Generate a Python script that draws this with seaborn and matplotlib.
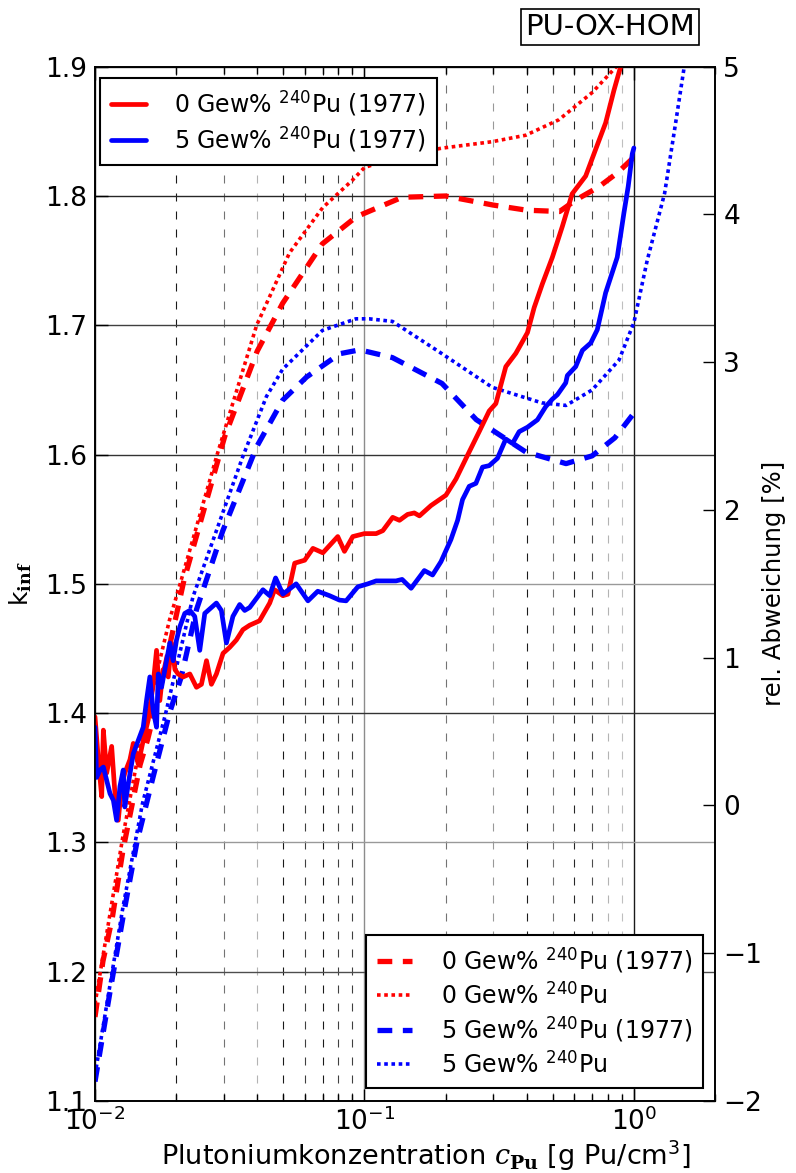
import matplotlib
matplotlib.use("Agg")
import matplotlib.pyplot as plt
import seaborn as sns
from matplotlib.ticker import LogLocator, NullFormatter, FixedLocator

# --- k_inf, 1977 evaluation (dashed) and current data (dotted) ---
x_red_1977 = [0.010, 0.0107, 0.0116, 0.0127, 0.0147, 0.0157, 0.0175, 0.020, 0.0214,
              0.0303, 0.040, 0.0497, 0.0698, 0.0934, 0.138, 0.20, 0.30, 0.40, 0.53,
              0.61, 0.74, 0.87, 1.0]
k_red_1977 = [1.165, 1.208, 1.242, 1.294, 1.36, 1.38, 1.42, 1.475, 1.503,
              1.614, 1.68, 1.717, 1.763, 1.784, 1.799, 1.800, 1.793, 1.789, 1.788,
              1.797, 1.807, 1.818, 1.83]

x_red_new = [0.010, 0.0127, 0.015, 0.0189, 0.0207, 0.0284, 0.0398, 0.0527, 0.070, 0.090,
             0.10, 0.14, 0.194, 0.298, 0.397, 0.527, 0.70, 0.86, 1.0]
k_red_new = [1.175, 1.305, 1.385, 1.472, 1.50, 1.60, 1.70, 1.756, 1.791, 1.812,
             1.822, 1.832, 1.837, 1.842, 1.847, 1.859, 1.88, 1.90, 1.925]

x_blue_1977 = [0.010, 0.0114, 0.0127, 0.0143, 0.0164, 0.0189, 0.0209, 0.0238, 0.0298,
               0.0398, 0.0497, 0.061, 0.081, 0.096, 0.127, 0.194, 0.26, 0.397, 0.56,
               0.70, 0.85, 1.0]
k_blue_1977 = [1.115, 1.186, 1.242, 1.30, 1.35, 1.40, 1.428, 1.48, 1.541,
               1.606, 1.642, 1.66, 1.678, 1.681, 1.675, 1.655, 1.627, 1.602, 1.593,
               1.599, 1.613, 1.632]

x_blue_new = [0.010, 0.0127, 0.015, 0.0183, 0.0231, 0.0298, 0.0353, 0.0433, 0.0497,
              0.0698, 0.093, 0.104, 0.127, 0.194, 0.298, 0.455, 0.56, 0.70, 0.88,
              1.0, 1.12, 1.3, 1.42, 1.53, 1.6]
k_blue_new = [1.12, 1.25, 1.33, 1.40, 1.49, 1.555, 1.598, 1.645, 1.666,
              1.696, 1.705, 1.705, 1.703, 1.678, 1.652, 1.640, 1.638, 1.65, 1.673,
              1.702, 1.75, 1.802, 1.853, 1.897, 1.93]

# --- relative deviation [%] (solid) ---
x_dev_red = [0.0100, 0.01029, 0.01059, 0.01074, 0.01105, 0.01153, 0.01186, 0.0122, 0.01255,
             0.0129, 0.01348, 0.01387, 0.01447, 0.0151, 0.01576, 0.01644, 0.01692, 0.0174,
             0.0179, 0.0187, 0.01923, 0.0198, 0.02035, 0.02124, 0.02249, 0.0238, 0.02483,
             0.02593, 0.02704, 0.02822, 0.02987, 0.0316, 0.03347, 0.0354, 0.0375, 0.0408,
             0.0445, 0.0464, 0.0498, 0.052, 0.0551, 0.060, 0.0644, 0.0701, 0.0796, 0.0843,
             0.0905, 0.100, 0.1105, 0.117, 0.1273, 0.1349, 0.1446, 0.1531, 0.160, 0.1766,
             0.2006, 0.2187, 0.2413, 0.2666, 0.2904, 0.3074, 0.3347, 0.3646, 0.4027, 0.4265,
             0.4574, 0.4982, 0.5428, 0.5902, 0.6623, 0.7211, 0.7855, 0.8433, 0.8929, 1.0]
r_dev_red = [0.60, 0.31, 0.06, 0.51, 0.22, 0.40, 0.08, -0.10, 0.13,
             0.22, 0.31, 0.42, 0.28, 0.44, 0.58, 0.82, 1.05, 0.71,
             0.92, 0.87, 1.10, 0.92, 0.89, 0.87, 0.89, 0.80, 0.82,
             0.98, 0.82, 0.89, 1.03, 1.07, 1.12, 1.19, 1.22, 1.25,
             1.37, 1.46, 1.42, 1.43, 1.64, 1.66, 1.74, 1.71, 1.82, 1.72,
             1.82, 1.84, 1.84, 1.86, 1.95, 1.93, 1.97, 1.98, 1.96, 2.03,
             2.10, 2.21, 2.37, 2.53, 2.67, 2.72, 2.97, 3.06, 3.20, 3.37,
             3.53, 3.71, 3.92, 4.14, 4.26, 4.44, 4.62, 4.84, 5.00, 5.40]

x_dev_blue = [0.0100, 0.01014, 0.01044, 0.01074, 0.01105, 0.01137, 0.0117, 0.01203, 0.01238,
              0.01273, 0.0129, 0.0133, 0.01387, 0.01447, 0.0151, 0.01553, 0.01598, 0.01644,
              0.01692, 0.01717, 0.01766, 0.01843, 0.01896, 0.0195, 0.02007, 0.02065, 0.02154,
              0.02249, 0.02345, 0.02448, 0.02555, 0.02704, 0.02822, 0.02944, 0.03074, 0.0325,
              0.03443, 0.03594, 0.0375, 0.042, 0.0445, 0.0468, 0.0498, 0.0558, 0.0617, 0.0671,
              0.0742, 0.0808, 0.0855, 0.0945, 0.1029, 0.1105, 0.131, 0.138, 0.149, 0.1668,
              0.179, 0.1923, 0.2094, 0.2217, 0.2312, 0.2448, 0.2592, 0.2743, 0.2904, 0.3117,
              0.3347, 0.3543, 0.3752, 0.4027, 0.4385, 0.4709, 0.4982, 0.52, 0.5585, 0.5663,
              0.6082, 0.644, 0.6915, 0.7314, 0.7855, 0.8673, 0.9183, 0.9527, 0.9863, 1.0]
r_dev_blue = [0.53, 0.19, 0.24, 0.26, 0.17, 0.08, 0.035, -0.10, 0.13,
              0.24, -0.01, 0.15, 0.35, 0.44, 0.53, 0.71, 0.87, 0.64,
              0.53, 0.89, 0.80, 0.98, 1.10, 0.98, 1.12, 1.21, 1.30,
              1.32, 1.28, 1.05, 1.30, 1.34, 1.37, 1.32, 1.10, 1.28,
              1.36, 1.32, 1.34, 1.46, 1.42, 1.54, 1.43, 1.50, 1.385, 1.45,
              1.42, 1.39, 1.385, 1.48, 1.50, 1.52, 1.52, 1.53, 1.47, 1.59,
              1.56, 1.65, 1.80, 1.93, 2.07, 2.16, 2.18, 2.29, 2.30, 2.35,
              2.48, 2.45, 2.53, 2.56, 2.61, 2.70, 2.75, 2.78, 2.86, 2.91,
              2.97, 3.08, 3.13, 3.22, 3.47, 3.71, 4.01, 4.19, 4.41, 4.45]

legend_top = ["0 Gew% $^{240}$Pu (1977)", "5 Gew% $^{240}$Pu (1977)"]
legend_bottom = ["0 Gew% $^{240}$Pu (1977)", "0 Gew% $^{240}$Pu",
                 "5 Gew% $^{240}$Pu (1977)", "5 Gew% $^{240}$Pu"]

k_ticks = [1.1, 1.2, 1.3, 1.4, 1.5, 1.6, 1.7, 1.8, 1.9]
dev_ticks = [-2, -1, 0, 1, 2, 3, 4, 5]

sns.set_theme(style="white")
plt.rcParams.update({
    "font.family": ["DejaVu Sans"],
    "mathtext.fontset": "custom",
    "mathtext.rm": "DejaVu Sans",
    "mathtext.it": "DejaVu Serif:italic",
    "mathtext.bf": "DejaVu Serif:bold",
    "axes.edgecolor": "black",
    "axes.linewidth": 1.2,
    "text.color": "black",
    "axes.labelcolor": "black",
    "xtick.color": "black",
    "ytick.color": "black",
    "axes.axisbelow": True,
})

fig = plt.figure(figsize=(7.96, 11.73), dpi=100)
ax = fig.add_axes([95 / 796, 1 - 1101 / 1173, 620 / 796, (1101 - 66.7) / 1173])
ax.set_xscale("log")
ax2 = ax.twinx()

dash = (0, (2.8, 2.0))
dot = (0, (1.0, 1.0))

sns.lineplot(x=x_red_1977, y=k_red_1977, ax=ax, color="#ff0000", lw=3.8,
             linestyle=dash, estimator=None, sort=False, label=legend_bottom[0])
sns.lineplot(x=x_red_new, y=k_red_new, ax=ax, color="#ff0000", lw=2.6,
             linestyle=dot, estimator=None, sort=False, label=legend_bottom[1])
sns.lineplot(x=x_blue_1977, y=k_blue_1977, ax=ax, color="#0000ff", lw=3.8,
             linestyle=dash, estimator=None, sort=False, label=legend_bottom[2])
sns.lineplot(x=x_blue_new, y=k_blue_new, ax=ax, color="#0000ff", lw=2.6,
             linestyle=dot, estimator=None, sort=False, label=legend_bottom[3])

sns.lineplot(x=x_dev_red, y=r_dev_red, ax=ax2, color="#ff0000", lw=3.4,
             estimator=None, sort=False, label=legend_top[0])
sns.lineplot(x=x_dev_blue, y=r_dev_blue, ax=ax2, color="#0000ff", lw=3.4,
             estimator=None, sort=False, label=legend_top[1])

ax.set_xlim(0.01, 2.0)
ax.set_ylim(1.1, 1.9)
ax2.set_ylim(-2, 5)

ax.xaxis.set_major_locator(LogLocator(base=10, numticks=10))
ax.xaxis.set_minor_locator(LogLocator(base=10, subs=range(2, 10), numticks=20))
ax.xaxis.set_minor_formatter(NullFormatter())
ax.yaxis.set_major_locator(FixedLocator(k_ticks))
ax.set_yticklabels([f"{v:.1f}" for v in k_ticks])
ax2.yaxis.set_major_locator(FixedLocator(dev_ticks))
ax2.set_yticklabels([f"{v}".replace("-", "\u2212") for v in dev_ticks])

ax.tick_params(axis="x", which="major", direction="in", top=True, bottom=True,
               length=9, width=1, labelsize=19, pad=5)
ax.tick_params(axis="x", which="minor", direction="in", top=True, bottom=True,
               length=5, width=1)
ax.tick_params(axis="y", which="major", direction="in", left=True, right=False,
               length=9, width=1, labelsize=19, pad=6)
ax2.tick_params(axis="y", which="major", direction="in", right=True, left=False,
                length=9, width=1, labelsize=19, pad=6)

# grid: solid horizontals and decade lines, dashed minor verticals
ax.grid(True, which="major", axis="both", linestyle="-", linewidth=1.0, color="0.2")
ax.grid(True, which="minor", axis="x", linestyle=(0, (7.2, 9.0)), linewidth=0.8, color="0.1")

h_shades = {1.2: "0.3", 1.3: "0.6", 1.4: "0.2", 1.5: "0.6", 1.6: "0.2", 1.7: "0.25", 1.8: "0.15"}
v_major_shades = {0.1: "0.55", 1.0: "0.1"}
v_minor_shades = {0.02: "0.1", 0.03: "0.45", 0.04: "0.7", 0.05: "0.1", 0.06: "0.25",
                  0.07: "0.1", 0.08: "0.25", 0.09: "0.25", 0.2: "0.45", 0.3: "0.6",
                  0.4: "0.1", 0.5: "0.45", 0.6: "0.15", 0.7: "0.3", 0.8: "0.7", 0.9: "0.75"}


def shade_of(val, table, default):
    for k, c in table.items():
        if abs(val / k - 1) < 1e-3:
            return c
    return default


for tick, loc in zip(ax.yaxis.get_major_ticks(), ax.yaxis.get_majorticklocs()):
    tick.gridline.set_color(shade_of(loc, h_shades, "0.2"))
for tick, loc in zip(ax.xaxis.get_major_ticks(), ax.xaxis.get_majorticklocs()):
    tick.gridline.set_color(shade_of(loc, v_major_shades, "0.2"))
for tick, loc in zip(ax.xaxis.get_minor_ticks(), ax.xaxis.get_minorticklocs()):
    tick.gridline.set_color(shade_of(loc, v_minor_shades, "0.3"))

ax.set_xlabel(r"Plutoniumkonzentration $c_{\mathbf{Pu}}$ [g Pu/cm$^3$]", fontsize=19.5)
ax.xaxis.set_label_coords(0.534, -0.036)
ax.set_ylabel(r"k$_{\mathbf{inf}}$", fontsize=18, labelpad=8)
ax2.set_ylabel("rel. Abweichung [%]", fontsize=17.5, labelpad=0)

leg_kw = dict(fontsize=17, frameon=True, fancybox=False, framealpha=1.0,
              edgecolor="black", borderaxespad=0.0, labelspacing=0.28,
              handlelength=1.5, handletextpad=1.2, borderpad=0.45)
h1, l1 = ax.get_legend_handles_labels()
leg_b = ax.legend(h1, l1, loc="lower right", bbox_to_anchor=(0.981, 0.0126), **leg_kw)
leg_b.get_frame().set_linewidth(1.5)
h2, l2 = ax2.get_legend_handles_labels()
leg_t = ax2.legend(h2, l2, loc="upper left", bbox_to_anchor=(0.008, 0.989), **leg_kw)
leg_t.get_frame().set_linewidth(1.5)

fig.text(610 / 796, 1 - 27 / 1173, "PU-OX-HOM", fontsize=21, ha="center", va="center",
         bbox=dict(boxstyle="square,pad=0.15", fc="white", ec="black", lw=1.2))

fig.savefig("out.png", dpi=100)
